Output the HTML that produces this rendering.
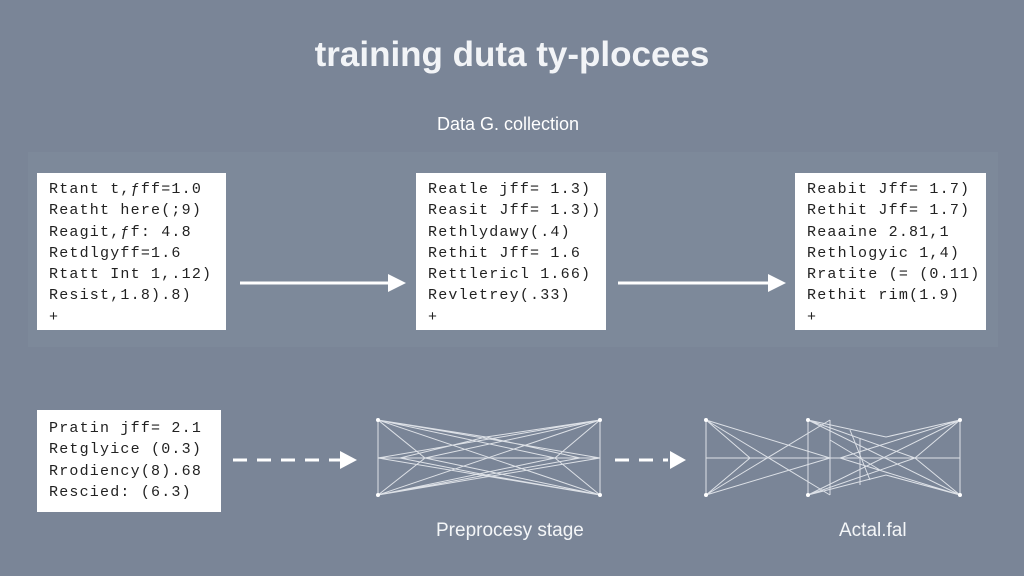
<!DOCTYPE html>
<html><head><style>
body{margin:0;width:1024px;height:576px;background:#7a8597;position:relative;overflow:hidden;font-family:"Liberation Sans",sans-serif}
.t{position:absolute;color:#f4f6f8}
.box{position:absolute;background:#fff;color:#222;font-family:"Liberation Mono",monospace;font-size:15px;line-height:21.3px;padding:6px 0 0 12px;box-sizing:border-box;letter-spacing:1.2px;white-space:nowrap}
</style></head><body>
<div style="position:absolute;left:28px;top:152px;width:970px;height:195px;background:#7d899a"></div>
<div class="t" style="left:0;width:1024px;text-align:center;top:35px;font-size:35px;font-weight:bold;color:#f2f4f7">training duta ty-plocees</div>
<div class="t" style="left:437px;top:114px;font-size:18px;color:#fff">Data G. collection</div>
<div class="box" style="left:37px;top:173px;width:189px;height:157px">Rtant t,ƒff=1.0<br>Reatht here(;9)<br>Reagit,ƒf: 4.8<br>Retdlgyff=1.6<br>Rtatt Int 1,.12)<br>Resist,1.8).8)<br>+</div>
<div class="box" style="left:416px;top:173px;width:190px;height:157px">Reatle jff= 1.3)<br>Reasit Jff= 1.3))<br>Rethlydawy(.4)<br>Rethit Jff= 1.6<br>Rettlericl 1.66)<br>Revletrey(.33)<br>+</div>
<div class="box" style="left:795px;top:173px;width:191px;height:157px">Reabit Jff= 1.7)<br>Rethit Jff= 1.7)<br>Reaaine 2.81,1<br>Rethlogyic 1,4)<br>Rratite (= (0.11)<br>Rethit rim(1.9)<br>+</div>
<div class="box" style="left:37px;top:410px;width:184px;height:102px;padding-top:8px">Pratin jff= 2.1<br>Retglyice (0.3)<br>Rrodiency(8).68<br>Rescied: (6.3)</div>
<svg style="position:absolute;left:0;top:0" width="1024" height="576">
<g stroke="#fff" stroke-width="3" fill="#fff">
<line x1="240" y1="283" x2="390" y2="283"/><polygon points="388,274 406,283 388,292" stroke="none"/>
<line x1="618" y1="283" x2="770" y2="283"/><polygon points="768,274 786,283 768,292" stroke="none"/>
<line x1="233" y1="460" x2="340" y2="460" stroke-dasharray="14,10"/><polygon points="340,451 357,460 340,469" stroke="none"/>
<line x1="615" y1="460" x2="668" y2="460" stroke-dasharray="14,10"/><polygon points="670,451 686,460 670,469" stroke="none"/>
</g>
<g stroke="#eef1f5" stroke-width="1" fill="none" opacity="0.85">
<path d="M378 420V495M600 420V495M378 420L600 495M378 495L600 420M378 420L486 437L600 420M378 495L486 475L600 495M378 458L600 458M378 420L600 458M378 495L600 458M378 458L600 420M378 458L600 495M378 420L425 458L378 495M600 420L555 458L600 495M425 458L555 458M400 458L486 437L580 458M400 458L486 475L580 458M378 420L555 458M378 495L555 458M600 420L425 458M600 495L425 458"/>
<path d="M706 420V495M830 420V495M706 420L830 495M706 495L830 420M706 458L830 458M706 420L750 458L706 495M706 420L830 458M706 495L830 458"/>
<path d="M808 420V495M960 420V495M808 420L960 495M808 495L960 420M808 420L886 437L960 420M808 495L886 475L960 495M808 458L960 458M960 420L915 458L960 495M808 420L915 458M808 495L915 458M960 420L840 458M960 495L840 458M830 440L880 470M850 430L870 480M860 438V485"/>
</g>
<g fill="#fff"><circle cx="378" cy="420" r="2"/><circle cx="378" cy="495" r="2"/><circle cx="600" cy="420" r="2"/><circle cx="600" cy="495" r="2"/><circle cx="706" cy="420" r="2"/><circle cx="706" cy="495" r="2"/><circle cx="808" cy="420" r="2"/><circle cx="808" cy="495" r="2"/><circle cx="960" cy="420" r="2"/><circle cx="960" cy="495" r="2"/></g>
</svg>
<div class="t" style="left:436px;top:520px;font-size:19px">Preprocesy stage</div>
<div class="t" style="left:839px;top:520px;font-size:19px">Actal.fal</div>
</body></html>
